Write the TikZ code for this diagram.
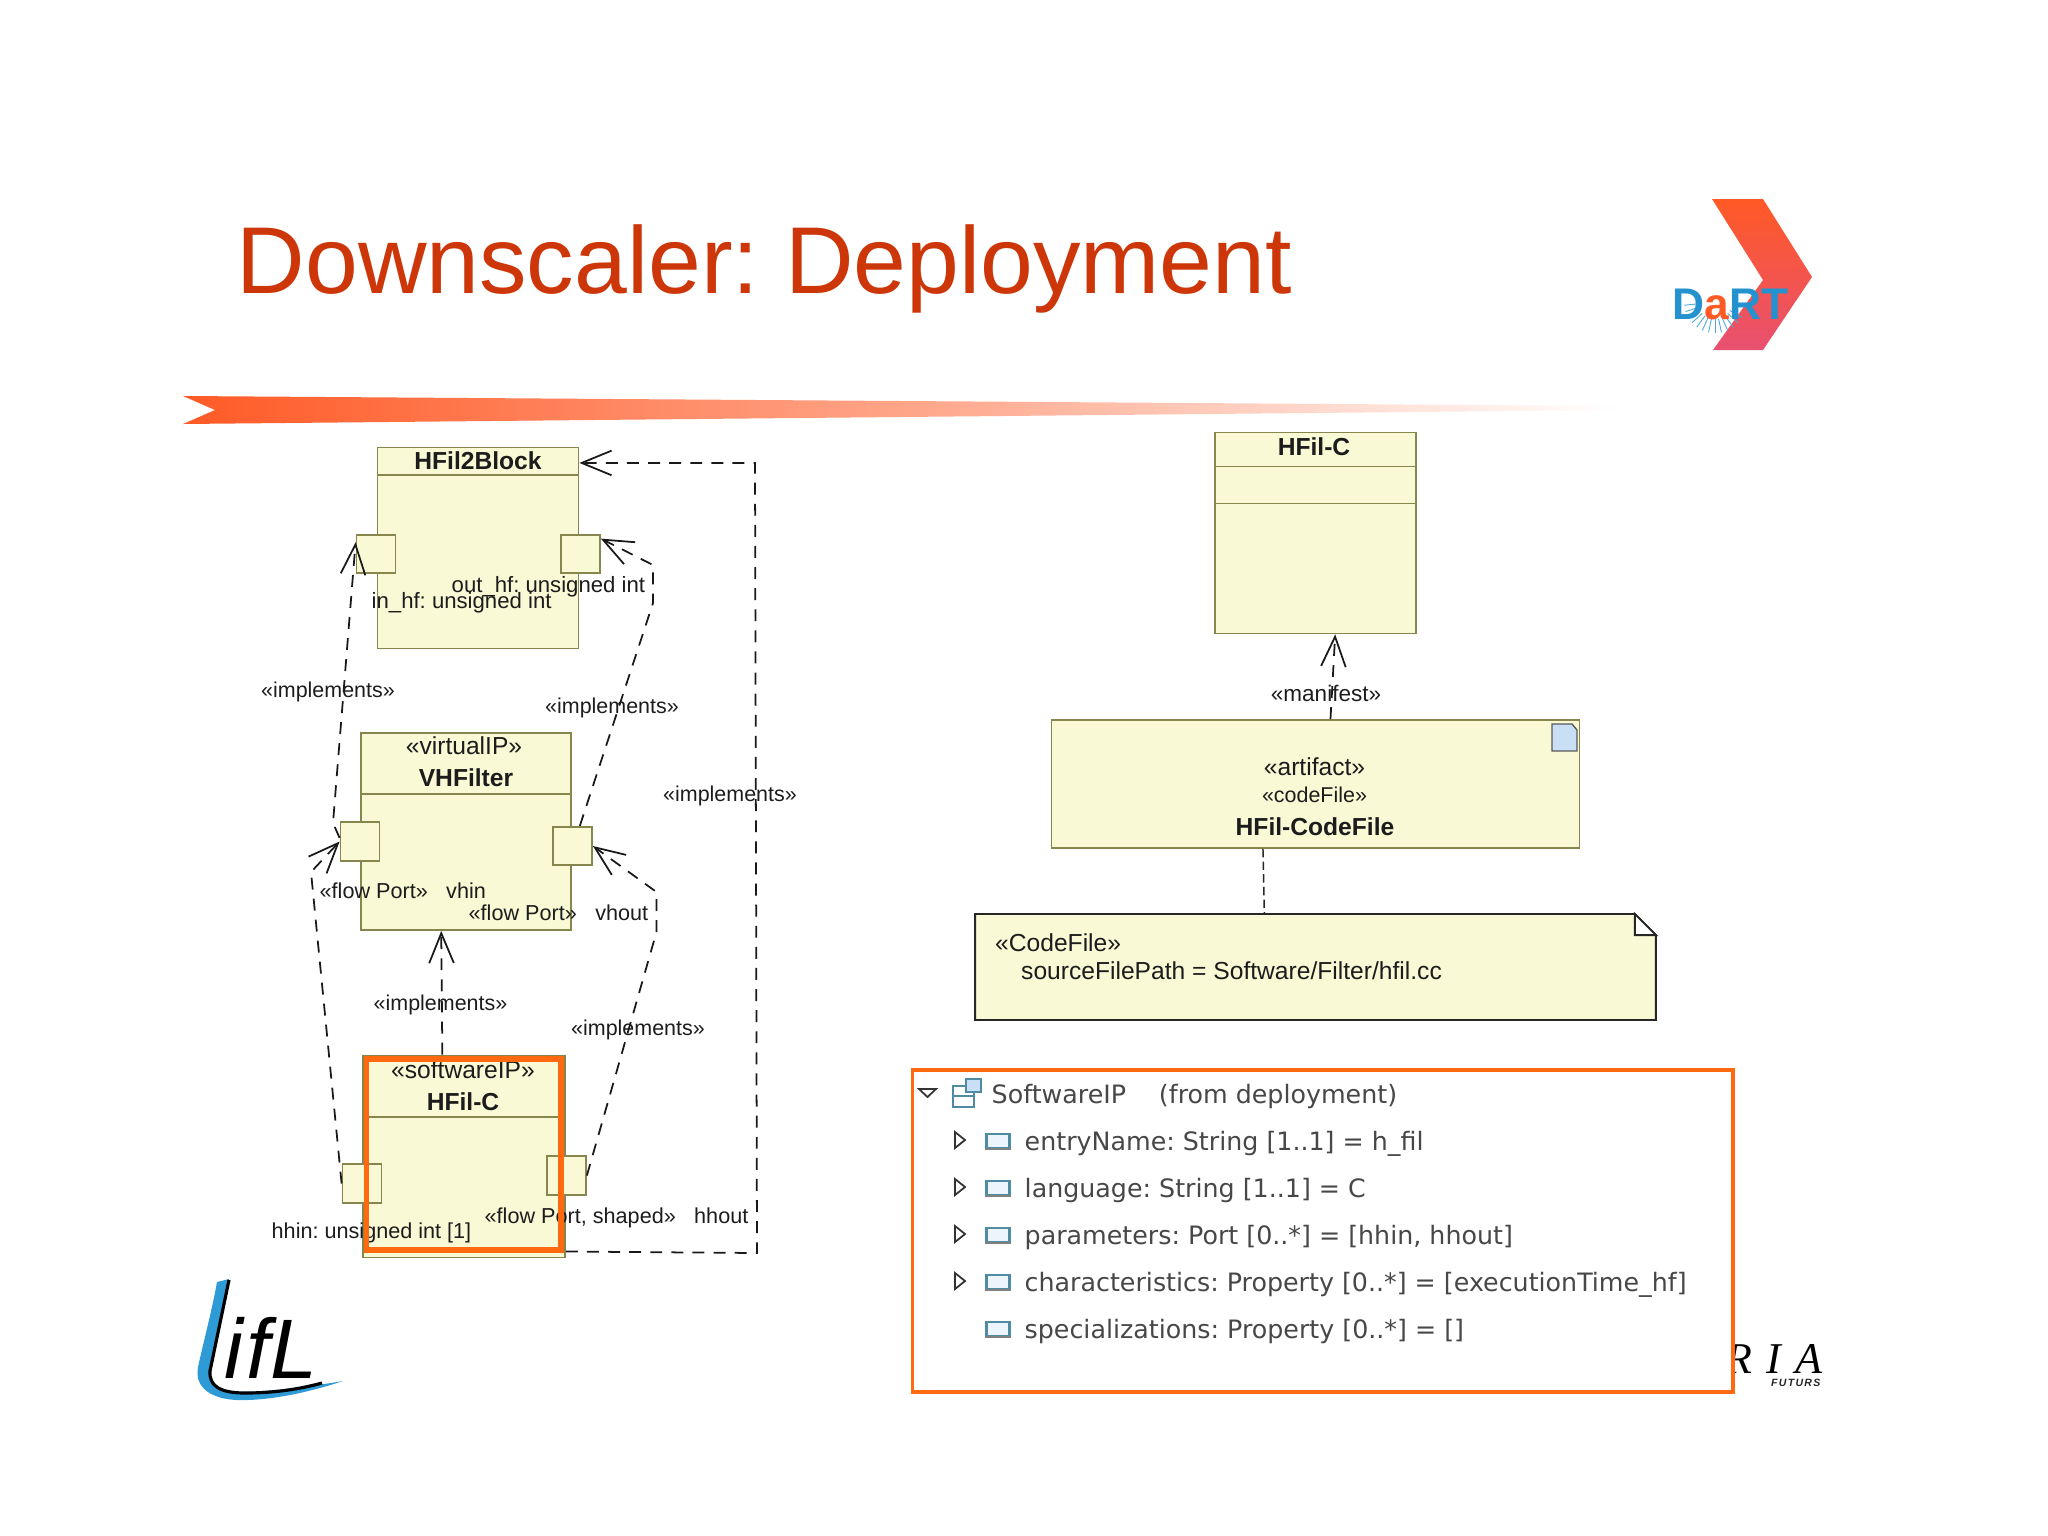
\documentclass[tikz,border=0pt]{standalone}
\usepackage{fontspec}
\setmainfont{Liberation Sans}
\newfontfamily\paneltext{DejaVu Sans}
\newfontfamily\inriatext[LetterSpace=32]{Liberation Serif}
\newfontfamily\futurstext[LetterSpace=12]{Liberation Sans}
\usetikzlibrary{arrows.meta}
\definecolor{umlfill}{HTML}{F9F9D6}
\definecolor{umlline}{HTML}{86864E}
\definecolor{umltext}{HTML}{1C1C1C}
\definecolor{slidered}{HTML}{CC3608}
\definecolor{slideorange}{HTML}{FF5A26}
\definecolor{markorange}{HTML}{FF6A10}
\definecolor{dartblue}{HTML}{2392CF}
\definecolor{dartpink}{HTML}{E85070}
\definecolor{liflblue}{HTML}{2E9BD6}
\definecolor{iconblue}{HTML}{4F8CA4}
\definecolor{sheetblue}{HTML}{C8DFF6}
\tikzset{
    umlbox/.style n args={2}{draw=umlline, fill=umlfill, line width=0.5pt, inner sep=0pt, minimum width=#1*0.01cm, minimum height=#2*0.01cm},
    portbox/.style={draw=umlline, fill=umlfill, line width=0.5pt, inner sep=0pt, minimum width=0.39cm, minimum height=0.385cm},
    stereo/.style={inner sep=0pt, text=umltext, font=\fontsize{7}{8}\selectfont},
    boxname/.style={inner sep=0pt, text=umltext, font=\fontsize{7}{8}\selectfont\bfseries},
    smalllabel/.style={inner sep=0pt, text=umltext, font=\fontsize{6.1}{7}\selectfont},
    portlabel/.style={inner sep=0pt, anchor=west, text=umltext, font=\fontsize{6.15}{7}\selectfont},
    rowlabel/.style={inner sep=0pt, anchor=base west, text=black!72, font=\fontsize{7.2}{8}\selectfont\paneltext},
    realize/.style={draw=black!90, line width=0.5pt, dash pattern=on 3.4pt off 2.6pt, -{Straight Barb[length=8.5pt,width=7pt]}},
}
\begin{document}
\frenchspacing
\begin{tikzpicture}[x=0.01cm, y=-0.01cm]
    \useasboundingbox (0,0) rectangle (2048,1536);
    % slide title and rule
    \node[inner sep=0pt, anchor=base west, text=slidered, font=\fontsize{27}{30}\selectfont] (title) at (236,293.5) {Downscaler: Deployment};
    \shade[left color=slideorange, right color=white, middle color=slideorange!55] (183,396) -- (1620,406) -- (1620,410) -- (183,424) -- (215,410) -- cycle;
    % dart logo
    \shade[top color=slideorange, middle color=slideorange, bottom color=dartpink] (1712,199) -- (1763,199) -- (1812,277) -- (1763,350) -- (1713,350) -- (1763,280) -- cycle;
    \foreach \rayang in {30,42,...,174} {
        \draw[dartblue!80, line width=0.25pt, shift={(1715,302)}] (\rayang:17) -- (\rayang:31);
    }
    \node[inner sep=0pt, anchor=base west, text=dartblue, font=\fontsize{12.6}{14}\selectfont\bfseries] (dartname) at (1672,319) {D\textcolor{slideorange}{a}RT};
    % lifl logo
    \fill[liflblue] (229,1279) -- (217,1282) .. controls (212,1310) and (204,1340) .. (198,1367) .. controls (194,1388) and (212,1399) .. (237,1400) .. controls (270,1401) and (310,1392) .. (343,1381) .. controls (320,1385) and (270,1392) .. (237,1392) .. controls (220,1390) and (208,1385) .. (210,1370) -- cycle;
    \draw[black, line width=0.9pt] (229,1280) -- (210,1371) .. controls (209,1386) and (220,1393) .. (245,1393) .. controls (275,1393) and (300,1389) .. (322,1383);
    \node[inner sep=0pt, anchor=base west, text=black, font=\fontsize{24}{26}\selectfont\itshape] (liflname) at (224,1378) {i\hspace{1pt}fL};
    % inria logo, cut by the panel below
    \node[inner sep=0pt, anchor=base east, text=black, font=\fontsize{12.5}{14}\selectfont\inriatext\itshape] (inrianame) at (1823,1373) {RIA};
    \node[inner sep=0pt, anchor=base east, text=black!85, font=\fontsize{3}{4}\selectfont\futurstext\bfseries\itshape] (futursname) at (1821,1386) {FUTURS};

    % left diagram: boxes
    \node[umlbox={201}{201}] (hfilblock) at (478,548) {};
    \draw[umlline, line width=0.5pt] (hfilblock.west |- 0,475) -- (hfilblock.east |- 0,475);
    \node[boxname] (hfilblockname) at (478,461) {HFil2Block};
    \node[umlbox={210}{197}] (vhfilter) at (466,831.5) {};
    \draw[umlline, line width=0.5pt] (vhfilter.west |- 0,794) -- (vhfilter.east |- 0,794);
    \node[stereo] (vhfilterstereo) at (464,746) {«virtualIP»};
    \node[boxname] (vhfiltername) at (466,778) {VHFilter};
    \node[umlbox={202}{202}] (hfilc) at (464,1156.5) {};
    \draw[umlline, line width=0.5pt] (hfilc.west |- 0,1117) -- (hfilc.east |- 0,1117);
    \node[stereo] (hfilcstereo) at (463,1070) {«softwareIP»};
    \node[boxname] (hfilcname) at (463,1102) {HFil-C};
    % ports
    \node[portbox] (inhf) at (376,554) {};
    \node[portbox] (outhf) at (580.5,554) {};
    \node[portbox] (vhin) at (360,841.5) {};
    \node[portbox] (vhout) at (572.5,846) {};
    \node[portbox] (hhin) at (362,1183.5) {};
    \node[portbox] (hhout) at (566.5,1175.5) {};
    % port labels
    \node[portlabel, font=\fontsize{6.3}{7}\selectfont] (outhflabel) at (451,587) {out\_hf: unsigned int};
    \node[portlabel, font=\fontsize{6.3}{7}\selectfont] (inhflabel) at (371,603) {in\_hf: unsigned int};
    \node[portlabel] (vhinlabel) at (319,891) {«flow Port»\hspace{0.85em}vhin};
    \node[portlabel] (vhoutlabel) at (468,913) {«flow Port»\hspace{0.85em}vhout};
    \node[portlabel] (hhinlabel) at (271,1233) {hhin: unsigned int [1]};
    \node[portlabel] (hhoutlabel) at (484,1218) {«flow Port, shaped»\hspace{0.85em}hhout};
    % bends of the connectors
    \coordinate (leftbend) at (333,823);
    \coordinate (lowleftbend) at (311,872);
    \coordinate (rightbenda) at (653,603);
    \coordinate (rightbendb) at (653,565);
    \coordinate (lowrightbenda) at (656.5,932);
    \coordinate (lowrightbendb) at (656.5,892);
    \coordinate (bigbenda) at (757,1253);
    \coordinate (bigbendb) at (755,463);
    % implements connectors
    \draw[realize] (vhin.170) -- (leftbend) -- (inhf.150);
    \draw[realize] (hhin.west) -- (lowleftbend) -- (vhin.west);
    \draw[realize] (vhout.70) -- (rightbenda) -- (rightbendb) -- (outhf.37);
    \draw[realize] (hhout.east) -- (lowrightbenda) -- (lowrightbendb) -- (vhout.east);
    \draw[realize] (hfilc.102) -- (vhfilter.-104);
    \draw[realize] (hfilc.-43) -- (bigbenda) -- (bigbendb) -- (hfilblock.40);
    \node[smalllabel] (impla) at (328,691.5) {«implements»};
    \node[smalllabel] (implb) at (612,707.5) {«implements»};
    \node[smalllabel] (implc) at (730,795.5) {«implements»};
    \node[smalllabel] (impld) at (440.5,1004.5) {«implements»};
    \node[smalllabel] (imple) at (638,1029.5) {«implements»};
    % highlight of the software ip
    \draw[markorange, line width=1.5pt] (366.5,1059) rectangle (561,1250);

    % right diagram
    \node[umlbox={200.5}{201}] (hfilcclass) at (1315.5,533) {};
    \draw[umlline, line width=0.5pt] (hfilcclass.west |- 0,466.5) -- (hfilcclass.east |- 0,466.5);
    \draw[umlline, line width=0.5pt] (hfilcclass.west |- 0,503.5) -- (hfilcclass.east |- 0,503.5);
    \node[boxname] (hfilcclassname) at (1314,447) {HFil-C};
    \node[umlbox={528}{128}] (artifact) at (1315.5,784) {};
    \node[stereo] (artifactstereo) at (1314.5,766.5) {«artifact»};
    \node[smalllabel] (artifactfile) at (1314.5,795) {«codeFile»};
    \node[boxname] (artifactname) at (1315,826.5) {HFil-CodeFile};
    % sheet icon of the artifact
    \draw[black!65, fill=sheetblue, line width=0.4pt] (1552,724) -- (1572,724) -- (1577,730) -- (1577,751) -- (1552,751) -- cycle;
    % note
    \node[inner sep=0pt, minimum width=6.79cm, minimum height=1.045cm] (codenote) at (1315.5,967) {};
    \draw[black!85, line width=0.55pt, fill=umlfill] (codenote.north west) -- ([xshift=-0.21cm]codenote.north east) -- ([yshift=-0.21cm]codenote.north east) -- (codenote.south east) -- (codenote.south west) -- cycle;
    \draw[black!85, line width=0.55pt, fill=white] ([xshift=-0.21cm]codenote.north east) -- ([xshift=-0.21cm,yshift=-0.21cm]codenote.north east) -- ([yshift=-0.21cm]codenote.north east) -- cycle;
    \node[stereo, anchor=west] (notestereo) at (994.5,942.5) {«CodeFile»};
    \node[stereo, anchor=west] (notepath) at (1020.5,970.5) {sourceFilePath = Software/Filter/hfil.cc};
    % dashed links
    \draw[realize] (artifact.77) -- (hfilcclass.-79);
    \draw[black!85, line width=0.42pt, dash pattern=on 2.4pt off 1.2pt] (artifact.-129) -- (codenote.134.7);
    \node[smalllabel, font=\fontsize{6.4}{7}\selectfont] (manifestlabel) at (1326,693) {«manifest»};

    % property panel
    \node[draw=markorange, fill=white, line width=1pt, inner sep=0pt, minimum width=8.2cm, minimum height=3.22cm] (panel) at (1322.5,1231) {};
    \draw[black!80, line width=0.5pt, fill=white] (919,1089) -- (936,1089) -- (927.5,1097) -- cycle;
    % class icon of the panel
    \draw[iconblue, line width=0.4pt, fill=white] (953,1086) rectangle (974,1107);
    \draw[iconblue, line width=0.4pt, fill=sheetblue] (966,1079) rectangle (981,1092);
    \draw[iconblue, line width=0.4pt] (953,1096) -- (974,1096);
    \node[rowlabel] (panelhead) at (991,1103) {SoftwareIP\hspace{1.3em}(from deployment)};
    % rows of the panel
    \foreach \rowy/\rowname/\rowtext in {1141/rowentry/{entryName: String [1..1] = h\_fil}, 1188/rowlang/{language: String [1..1] = C}, 1235/rowparam/{parameters: Port [0..*] = [hhin, hhout]}, 1282/rowchar/{characteristics: Property [0..*] = [executionTime\_hf]}, 1329/rowspec/{specializations: Property [0..*] = []}} {
        \node[draw=iconblue, fill=sheetblue!35, line width=0.8pt, inner sep=0pt, minimum width=0.23cm, minimum height=0.14cm] (\rowname icon) at (998,\rowy) {};
        \draw[black!50, line width=0.6pt] (\rowname icon.south west) -- (\rowname icon.south east);
        \node[rowlabel] (\rowname) at (1024,\rowy+9) {\rowtext};
    }
    \foreach \rowy in {1141,1188,1235,1282} {
        \draw[black!80, line width=0.5pt, fill=white] (955,\rowy-9) -- (965,\rowy-1) -- (955,\rowy+7) -- cycle;
    }
\end{tikzpicture}
\end{document}
